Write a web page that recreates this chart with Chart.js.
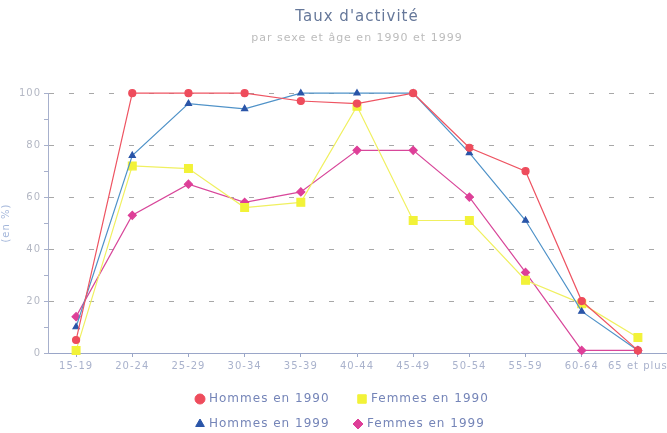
<!DOCTYPE html>
<html>
<head>
<meta charset="utf-8">
<script src="https://cdn.jsdelivr.net/npm/chart.js@4/dist/chart.umd.min.js"></script>
<style>
  html, body { margin: 0; padding: 0; background: #fff; }
  #wrap { width: 667px; height: 433px; position: relative; }
</style>
</head>
<body>
<div id="wrap"><canvas id="chart"></canvas></div>
<script>
const categories = ['15-19', '20-24', '25-29', '30-34', '35-39', '40-44', '45-49', '50-54', '55-59', '60-64', '65 et plus'];
const hommes1990 = [5, 100, 100, 100, 97, 96, 100, 79, 70, 20, 1];
const femmes1990 = [1, 72, 71, 56, 58, 95, 51, 51, 28, 19, 6];
const hommes1999 = [10, 76, 96, 94, 100, 100, 100, 77, 51, 16, 1];
const femmes1999 = [14, 53, 65, 58, 62, 78, 78, 60, 31, 1, 1];
const yTicks = [0, 20, 40, 60, 80, 100];

const FONT = 'DejaVu Sans';

const mkSet = (label, data, line, point, style, radius) => ({
  label,
  data,
  borderColor: line,
  backgroundColor: point,
  pointBackgroundColor: point,
  pointBorderColor: point,
  pointStyle: style,
  pointRadius: radius,
  borderWidth: 1.2,
  tension: 0,
  clip: 8,
});

// letter spacing for all the canvas text, set again after each resize
const spacing = {
  id: 'spacing',
  beforeUpdate(chart) { chart.ctx.letterSpacing = '1px'; },
  beforeDraw(chart) { chart.ctx.letterSpacing = '1px'; },
};

// two-row legend under the chart
const legendRows = {
  id: 'legendRows',
  afterDraw(chart) {
    const { ctx } = chart;
    const spots = [[200, 399], [200, 424], [362, 399], [358, 424]];
    const sizes = [5, 5, 6, 5];
    ctx.save();
    ctx.font = `12px "${FONT}"`;
    ctx.textBaseline = 'middle';
    ctx.textAlign = 'left';
    chart.data.datasets.forEach((ds, i) => {
      const [x, y] = spots[i];
      ctx.fillStyle = ds.pointBackgroundColor;
      ctx.strokeStyle = ds.pointBorderColor;
      Chart.helpers.drawPoint(ctx, { pointStyle: ds.pointStyle, radius: sizes[i], rotation: 0, borderWidth: 1 }, x, y);
      ctx.fillStyle = '#7585b8';
      ctx.fillText(ds.label, x + 9, y);
    });
    ctx.restore();
  },
};

new Chart(document.getElementById('chart'), {
  type: 'line',
  data: {
    labels: categories,
    datasets: [
      mkSet('Hommes en 1990', hommes1990, '#ee5462', '#ee4c5c', 'circle', 3.5),
      mkSet('Hommes en 1999', hommes1999, '#4f92c8', '#2a55a8', 'triangle', 3.5),
      mkSet('Femmes en 1990', femmes1990, '#f0f060', '#f2f238', 'rect', 5.5),
      mkSet('Femmes en 1999', femmes1999, '#d8479a', '#de3f98', 'rectRot', 4),
    ],
  },
  options: {
    responsive: true,
    maintainAspectRatio: false,
    animation: false,
    layout: { autoPadding: false, padding: { top: 0, right: 1, bottom: 58, left: 0 } },
    plugins: {
      legend: { display: false },
      tooltip: { enabled: false },
      title: {
        display: true,
        fullSize: false,
        text: "Taux d'activité",
        color: '#66789a',
        font: { family: FONT, size: 15, weight: 'normal' },
        padding: { top: 8, bottom: 4 },
      },
      subtitle: {
        display: true,
        fullSize: false,
        text: 'par sexe et âge en 1990 et 1999',
        color: '#bcbcbc',
        font: { family: FONT, size: 11, weight: 'normal' },
        padding: { top: 2, bottom: 48 },
      },
    },
    scales: {
      x: {
        offset: true,
        // let the last label run off the right edge, as in the scan
        afterFit(scale) { scale.paddingRight = 0; },
        grid: {
          offset: false,
          drawOnChartArea: false,
          tickLength: 4,
          tickColor: '#9aa6c8',
        },
        border: { color: '#9aa6c8', width: 1 },
        ticks: {
          color: '#a9b2cc',
          font: { family: FONT, size: 10 },
          padding: 3,
          maxRotation: 0,
          autoSkip: false,
        },
      },
      y: {
        min: 0,
        max: 100,
        afterFit(scale) { scale.width = 48; },
        afterBuildTicks(scale) {
          scale.ticks = [];
          for (let v = 0; v <= 100; v += 10) scale.ticks.push({ value: v });
        },
        grid: {
          color: (c) => (c.tick && yTicks.includes(c.tick.value) && c.tick.value > 0 ? '#a8a8a8' : 'rgba(0,0,0,0)'),
          tickColor: '#a7b0cc',
          tickLength: 4,
          lineWidth: 1,
        },
        border: { display: true, color: '#a7b0cc', width: 1, dash: [5, 15] },
        ticks: {
          color: '#b4b8c4',
          font: { family: FONT, size: 10 },
          padding: 3,
          callback: (v) => (yTicks.includes(v) ? v : ''),
        },
        title: {
          display: true,
          text: '(en %)',
          color: '#a3b6da',
          font: { family: FONT, size: 10 },
          padding: 0,
        },
      },
    },
  },
  plugins: [spacing, legendRows],
});
</script>
</body>
</html>
